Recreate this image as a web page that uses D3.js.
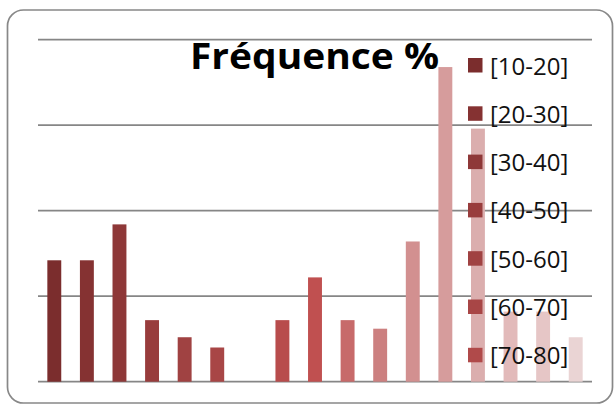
<!DOCTYPE html>
<html>
<head>
<meta charset="utf-8">
<script src="https://cdn.jsdelivr.net/npm/d3@7"></script>
<style>
  html, body { margin: 0; padding: 0; background: #fff; }
  svg { display: block; }
</style>
</head>
<body>
<svg id="chart" width="614" height="405"></svg>
<script>
// Age-class frequencies (%), one bar per series
const series = d3.range(17).map(i => "s" + i);
const values = [7.1, 7.1, 9.2, 3.6, 2.6, 2.0, 0, 3.6, 6.1, 3.6, 3.1, 8.2, 18.4, 14.8, 4.1, 4.1, 2.6];
const colors = ["#7b2d2d", "#853232", "#8e3838", "#983c3c", "#a04242", "#a84646", "#b04a4a",
                "#b84c4c", "#c05050", "#c76a6a", "#cc8080", "#d29090", "#d69c9c", "#dbaeae",
                "#e2baba", "#e6c6c6", "#ead4d4"];
const legendLabels = ["[10-20]", "[20-30]", "[30-40]", "[40-50]", "[50-60]", "[60-70]", "[70-80]"];
const yTicks = [0, 5, 10, 15, 20];
const title = "Fréquence %";

const svg = d3.select("#chart");

// frame
svg.append("rect")
  .attr("x", 7.5).attr("y", 10).attr("width", 605).attr("height", 393)
  .attr("rx", 16).attr("ry", 16)
  .attr("fill", "#fff").attr("stroke", "#888").attr("stroke-width", 1.7);

const x = d3.scaleBand().domain(series).range([38, 592])
  .paddingInner(0.573).paddingOuter(0.2865);
const y = d3.scaleLinear().domain([0, 20]).range([381.7, 39.7]);

// horizontal gridlines
svg.append("g").selectAll("line").data(yTicks).join("line")
  .attr("x1", 38).attr("x2", 592)
  .attr("y1", d => y(d)).attr("y2", d => y(d))
  .attr("stroke", "#868686").attr("stroke-width", 1.8);

// bars
svg.append("g").selectAll("rect").data(values).join("rect")
  .attr("x", (d, i) => x(series[i]))
  .attr("width", x.bandwidth())
  .attr("y", d => y(d))
  .attr("height", d => y(0) - y(d))
  .attr("fill", (d, i) => colors[i]);

// title
svg.append("text")
  .attr("x", 190).attr("y", 68.5)
  .attr("textLength", 249).attr("lengthAdjust", "spacingAndGlyphs")
  .style("font-family", "'Open Sans', sans-serif")
  .style("font-weight", 700).style("font-size", "35px")
  .attr("fill", "#000")
  .text(title);

// legend
const lg = svg.append("g").selectAll("g").data(legendLabels).join("g")
  .attr("transform", (d, i) => `translate(468, ${58 + i * 48.3})`);
lg.append("rect").attr("width", 14.5).attr("height", 14.5)
  .attr("fill", (d, i) => colors[i]);
lg.append("text")
  .attr("x", 22).attr("y", 16.5)
  .style("font-family", "'Open Sans', sans-serif")
  .style("font-size", "24px")
  .attr("fill", "#111")
  .text(d => d);
</script>
</body>
</html>
